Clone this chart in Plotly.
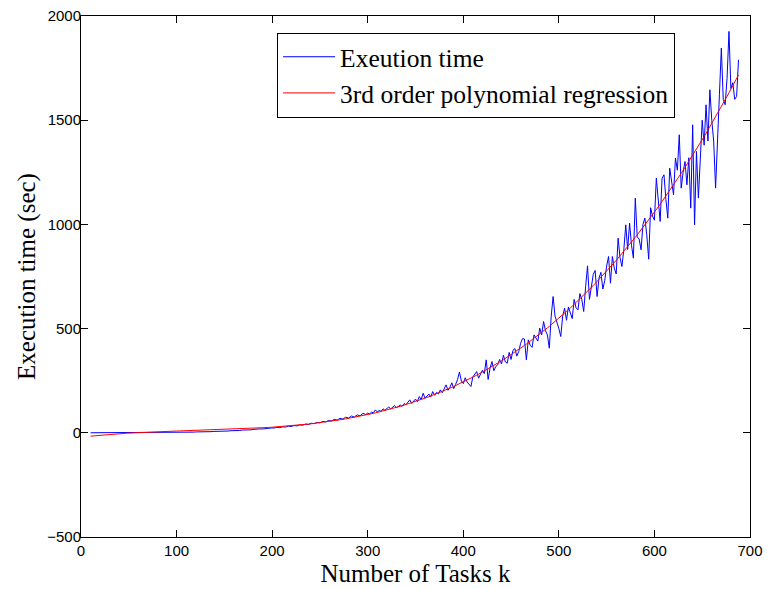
import numpy as np
import plotly.graph_objects as go

# Number of tasks k: every 3rd value up to 298, every 2nd value from 300 to 688
tasks = list(range(10, 299, 3)) + list(range(300, 689, 2))

# Measured execution time (sec) for each k
exec_time = [
    # k = 10 .. 97
    0.1, 0.1, 0.2, 0.1, 0.2, 0.1, 0.2, 0.2, 0.1, 0.3,
    0.2, 0.3, 0.2, 0.4, 0.3, 0.5, 0.4, 0.6, 0.5, 0.7,
    0.8, 0.7, 1.0, 0.9, 1.2, 1.1, 1.4, 1.5, 1.6, 1.9,
    # k = 100 .. 199
    2.1, 2.6, 2.3, 3.0, 2.8, 3.5, 3.3, 4.2, 3.9, 4.8,
    4.6, 5.6, 5.4, 6.6, 6.3, 7.6, 7.4, 8.9, 8.5, 10.1,
    9.8, 11.6, 11.0, 13.1, 12.6, 14.8, 14.3, 16.8, 16.0, 18.6,
    18.2, 20.9, 20.1, 23.2,
    # k = 202 .. 298
    23.0, 25.8, 24.9, 28.5, 27.6, 31.7, 30.4, 34.6, 33.0, 37.9,
    36.5, 41.8, 39.7, 45.9, 43.5, 49.8, 47.6, 54.6, 52.1, 58.9,
    56.4, 64.5, 60.8, 69.4, 65.9, 74.8, 70.6, 80.7, 75.2, 86.1,
    81.4, 93.5, 87.3,
    # k = 300 .. 348
    95, 90, 99, 96, 110, 100, 107, 103, 115, 108,
    117, 124, 114, 122, 131, 120, 128, 133, 127, 140,
    135, 146, 158, 141, 150,
    # k = 350 .. 398
    162, 150, 174, 160, 190, 166, 175, 186, 172, 198,
    180, 194, 186, 206, 192, 214, 230, 204, 218, 240,
    212, 232, 256, 292, 248,
    # k = 400 .. 448
    236, 264, 244, 230, 222, 268, 280, 294, 262, 278,
    300, 284, 350, 256, 310, 342, 298, 318, 326, 352,
    330, 372, 340, 334, 386,
    # k = 450 .. 498
    352, 396, 404, 368, 390, 430, 452, 450, 350, 446,
    420, 410, 470, 452, 440, 502, 470, 534, 490, 470,
    406, 560, 654, 560, 534,
    # k = 500 .. 548
    500, 462, 560, 598, 540, 604, 570, 548, 640, 600,
    590, 668, 640, 582, 700, 801, 640, 700, 760, 779,
    654, 742, 770, 690, 730,
    # k = 550 .. 598
    800, 846, 718, 846, 790, 762, 934, 840, 798, 880,
    998, 880, 1006, 900, 838, 1126, 940, 930, 878, 1000,
    1030, 950, 833, 1080, 1040,
    # k = 600 .. 648
    1020, 1222, 1100, 1014, 1222, 1238, 1120, 1030, 1270, 1200,
    1142, 1318, 1260, 1430, 1174, 1250, 1302, 1190, 1320, 1078,
    1478, 998, 1350, 1126, 1302,
    # k = 650 .. 688
    1500, 1380, 1574, 1400, 1646, 1500, 1400, 1174, 1446, 1622,
    1846, 1600, 1574, 1700, 1926, 1652, 1680, 1600, 1614, 1790,
]

x_ticks = [0, 100, 200, 300, 400, 500, 600, 700]
y_ticks = [-500, 0, 500, 1000, 1500, 2000]

# 3rd order least-squares fit of the measurements
k_arr = np.array(tasks, dtype=float)
t_arr = np.array(exec_time, dtype=float)
coeffs = np.polyfit(k_arr, t_arr, 3)
fit = np.polyval(coeffs, k_arr)

serif = "Liberation Serif, Times New Roman, serif"
sans = "Liberation Sans, Arial, Helvetica, sans-serif"

fig = go.Figure()
fig.add_trace(go.Scatter(
    x=tasks, y=exec_time, mode="lines", name="Exeution time",
    line=dict(color="#0000ff", width=1),
))
fig.add_trace(go.Scatter(
    x=tasks, y=fit, mode="lines", name="3rd order polynomial regression",
    line=dict(color="#ff0000", width=1),
))

axis_common = dict(
    showgrid=False, zeroline=False, automargin=False,
    showline=True, linecolor="black", linewidth=1, mirror="ticks",
    ticks="inside", ticklen=7, tickwidth=1, tickcolor="black",
    tickfont=dict(family=sans, size=15, color="black"),
)

fig.update_xaxes(
    range=[0, 700], tickvals=x_ticks,
    title=dict(text="Number of Tasks k", font=dict(family=serif, size=25, color="black"), standoff=6),
    **axis_common,
)
fig.update_yaxes(
    range=[-500, 2000], tickvals=y_ticks, ticklabelstandoff=-4,
    title=dict(text="Execution time (sec)", font=dict(family=serif, size=25, color="black"), standoff=4),
    **axis_common,
)

fig.update_layout(
    width=767, height=589,
    margin=dict(l=81, r=17, t=16, b=52),
    paper_bgcolor="white", plot_bgcolor="white",
    showlegend=True,
    legend=dict(
        x=0.888, y=0.968, xanchor="right", yanchor="top",
        bgcolor="white", bordercolor="black", borderwidth=1,
        font=dict(family=serif, size=25.5, color="black"),
        itemwidth=52, tracegroupgap=0,
    ),
)

fig.write_html("out.html")
